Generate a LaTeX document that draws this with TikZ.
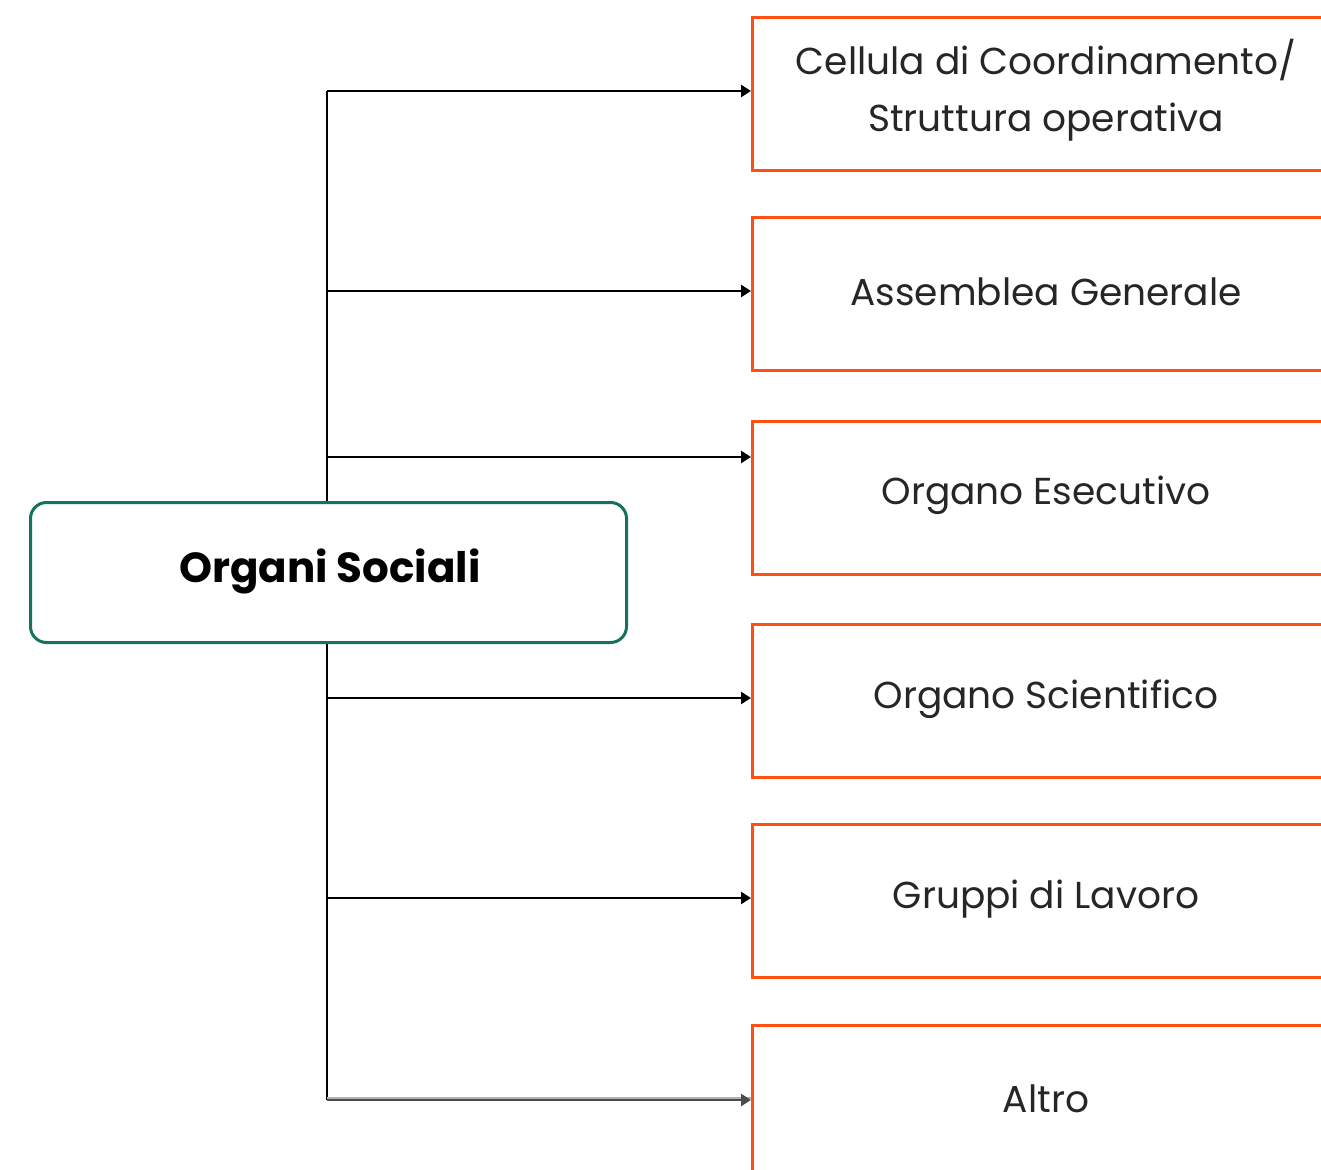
\documentclass[tikz,border=0pt]{standalone}
\usepackage{fontspec}
\setmainfont{Poppins}
\usetikzlibrary{arrows.meta}
\definecolor{orangeb}{HTML}{FF5014}
\definecolor{greenb}{HTML}{14725E}
\tikzset{
  x=1pt,y=-1pt,
  obox/.style={draw=orangeb,line width=3pt,minimum width=640pt,minimum height=153pt,anchor=north west,inner sep=0pt},
  otext/.style={font=\fontsize{37.5}{57}\selectfont,align=center,text=black!85},
  gbox/.style={draw=greenb,line width=3pt,rounded corners=16pt,minimum width=596pt,minimum height=140pt,anchor=north west},
  conn/.style={line width=2.5pt,-{Triangle[length=10pt,width=12pt]}},
  trunk/.style={line width=2.5pt}
}
\begin{document}
\begin{tikzpicture}
\useasboundingbox (0,0) rectangle (1321,1169);
\clip (0,0) rectangle (1321,1169);
\fill[white] (0,0) rectangle (1321,1169);
% right boxes
\node[obox] (b1) at (751,16) {};
\node[obox] (b2) at (751,216) {};
\node[obox] (b3) at (751,420) {};
\node[obox] (b4) at (751,623) {};
\node[obox] (b5) at (751,823) {};
\node[obox] (b6) at (751,1024) {};
\node[otext] (t1) at (1046,90) {Cellula di Coordinamento/\\Struttura operativa};
\node[otext] (t2) at (1046,292) {Assemblea Generale};
\node[otext] (t3) at (1046,495) {Organo Esecutivo};
\node[otext] (t4) at (1046,699) {Organo Scientifico};
\node[otext] (t5) at (1046,899) {Gruppi di Lavoro};
\node[otext] (t6) at (1046,1099) {Altro};
% left box
\node[gbox] (os) at (29,501) {};
\node[font=\fontsize{42}{50}\selectfont\bfseries] (ost) at (330,571) {Organi Sociali};
% connectors
\coordinate (top) at (327,91);
\coordinate (bot) at (327,1100);
\coordinate (j1) at (327,91);
\coordinate (j2) at (327,291);
\coordinate (j3) at (327,457);
\coordinate (j4) at (327,698);
\coordinate (j5) at (327,898);
\coordinate (j6) at (327,1100);
\draw[trunk] (top) -- (os.north -| top);
\draw[trunk] (os.south -| top) -- (bot);
\draw[conn] (j1) -- (j1 -| b1.west);
\draw[conn] (j2) -- (j2 -| b2.west);
\draw[conn] (j3) -- (j3 -| b3.west);
\draw[conn] (j4) -- (j4 -| b4.west);
\draw[conn] (j5) -- (j5 -| b5.west);
\draw[line width=2pt,black!30] ([yshift=2pt]j6) -- ([yshift=2pt]j6 -| b6.west);
\draw[conn,black!70] (j6) -- (j6 -| b6.west);
\end{tikzpicture}
\end{document}
